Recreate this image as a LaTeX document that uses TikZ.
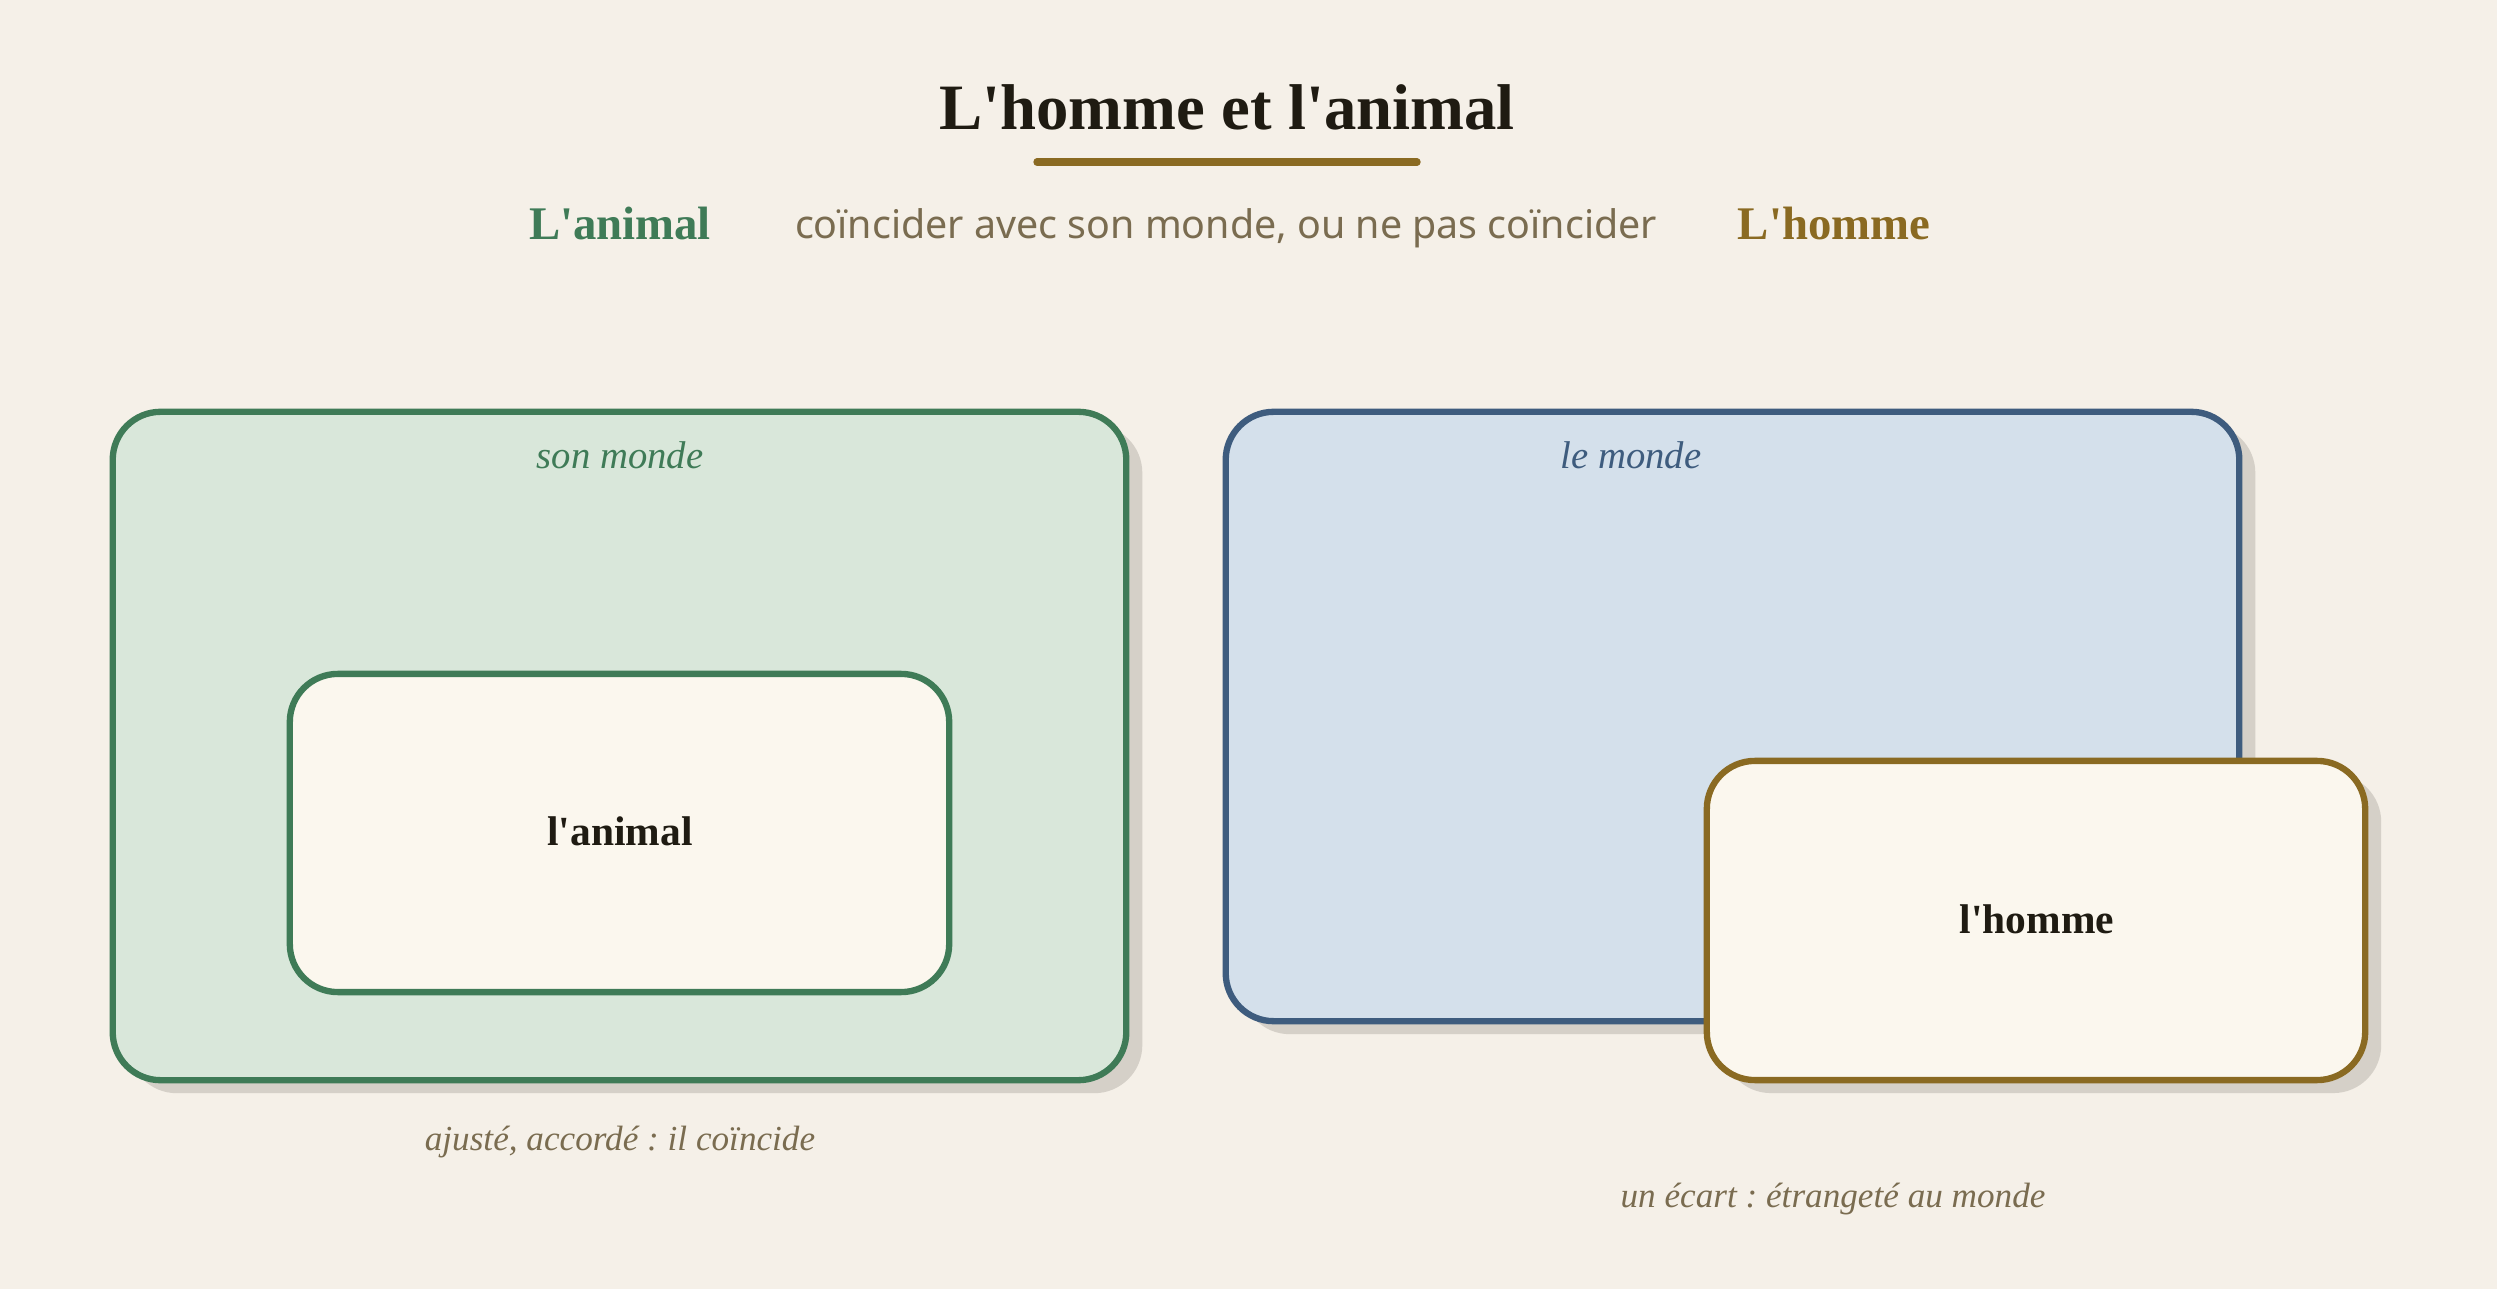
\documentclass[tikz,border=0pt]{standalone}
\usepackage{fontspec}
\setmainfont{Liberation Serif}
\newfontfamily\subsans{Noto Sans}
\usetikzlibrary{shadows}
\definecolor{bgc}{HTML}{F5F0E8}
\definecolor{greenc}{HTML}{3F7B57}
\definecolor{greenfill}{HTML}{D9E7DA}
\definecolor{innerfill}{HTML}{FBF7EE}
\definecolor{bluec}{HTML}{3E5C7E}
\definecolor{bluefill}{HTML}{D4E0EB}
\definecolor{goldc}{HTML}{8A6A22}
\definecolor{shadowc}{HTML}{D5D0C8}
\definecolor{darkc}{HTML}{1F1B12}
\definecolor{grayc}{HTML}{7A6C50}
\newcommand{\ap}{\textquotesingle}
\frenchspacing
\tikzset{
  boxbase/.style={draw, rectangle, rounded corners=0.48cm, line width=1.8pt, inner sep=0pt},
  shad/.style={drop shadow={shadow xshift=0.16cm, shadow yshift=-0.13cm, fill=shadowc, opacity=1}},
  inlabel/.style={font=\fontsize{11.8}{14}\selectfont\bfseries, text=darkc},
  toplabel/.style={font=\fontsize{11}{14}\selectfont\itshape},
  caption/.style={font=\fontsize{10}{12}\selectfont\itshape, text=grayc},
}
\begin{document}
\begin{tikzpicture}[x=0.01cm, y=-0.01cm]
\fill[bgc] (0,0) rectangle (2497,1289);
\useasboundingbox (0,0) rectangle (2497,1289);
% title
\node[font=\fontsize{18.4}{22}\selectfont\bfseries, text=darkc] (title) at (1227,107) {L\ap homme et l\ap animal};
\coordinate (ulA) at (1037,162);
\coordinate (ulB) at (1417,162);
\draw[goldc, line width=2.1pt, line cap=round] (ulA) -- (ulB);
% subtitle row
\node[font=\fontsize{13.3}{16}\selectfont\bfseries, text=greenc] (sanimal) at (620,224) {L\ap animal};
\node[font=\subsans\fontsize{11.2}{14}\selectfont, text=grayc] (sub) at (1226,228) {coïncider avec son monde, ou ne pas coïncider};
\node[font=\fontsize{13.3}{16}\selectfont\bfseries, text=goldc] (shomme) at (1834,224) {L\ap homme};
% left: son monde
\node[boxbase, shad, draw=greenc, fill=greenfill, minimum width=10.13cm, minimum height=6.68cm] (sonmonde) at (619.5,746) {};
\node[toplabel, text=greenc] (sonmondelbl) at (620,455) {son monde};
\node[boxbase, draw=greenc, fill=innerfill, minimum width=6.59cm, minimum height=3.18cm] (animal) at (619.5,833) {};
\node[inlabel] (animallbl) at (620,831) {l\ap animal};
\node[caption] (capL) at (620,1142) {ajusté, accordé : il coïncide};
% right: le monde
\node[boxbase, shad, draw=bluec, fill=bluefill, minimum width=10.13cm, minimum height=6.09cm] (lemonde) at (1732.5,716.5) {};
\node[toplabel, text=bluec] (lemondelbl) at (1631,455) {le monde};
\node[boxbase, shad, draw=goldc, fill=innerfill, minimum width=6.58cm, minimum height=3.19cm] (homme) at (2036,920.5) {};
\node[inlabel] (hommelbl) at (2037,919) {l\ap homme};
\node[caption] (capR) at (1833,1199) {un écart : étrangeté au monde};
\end{tikzpicture}
\end{document}
